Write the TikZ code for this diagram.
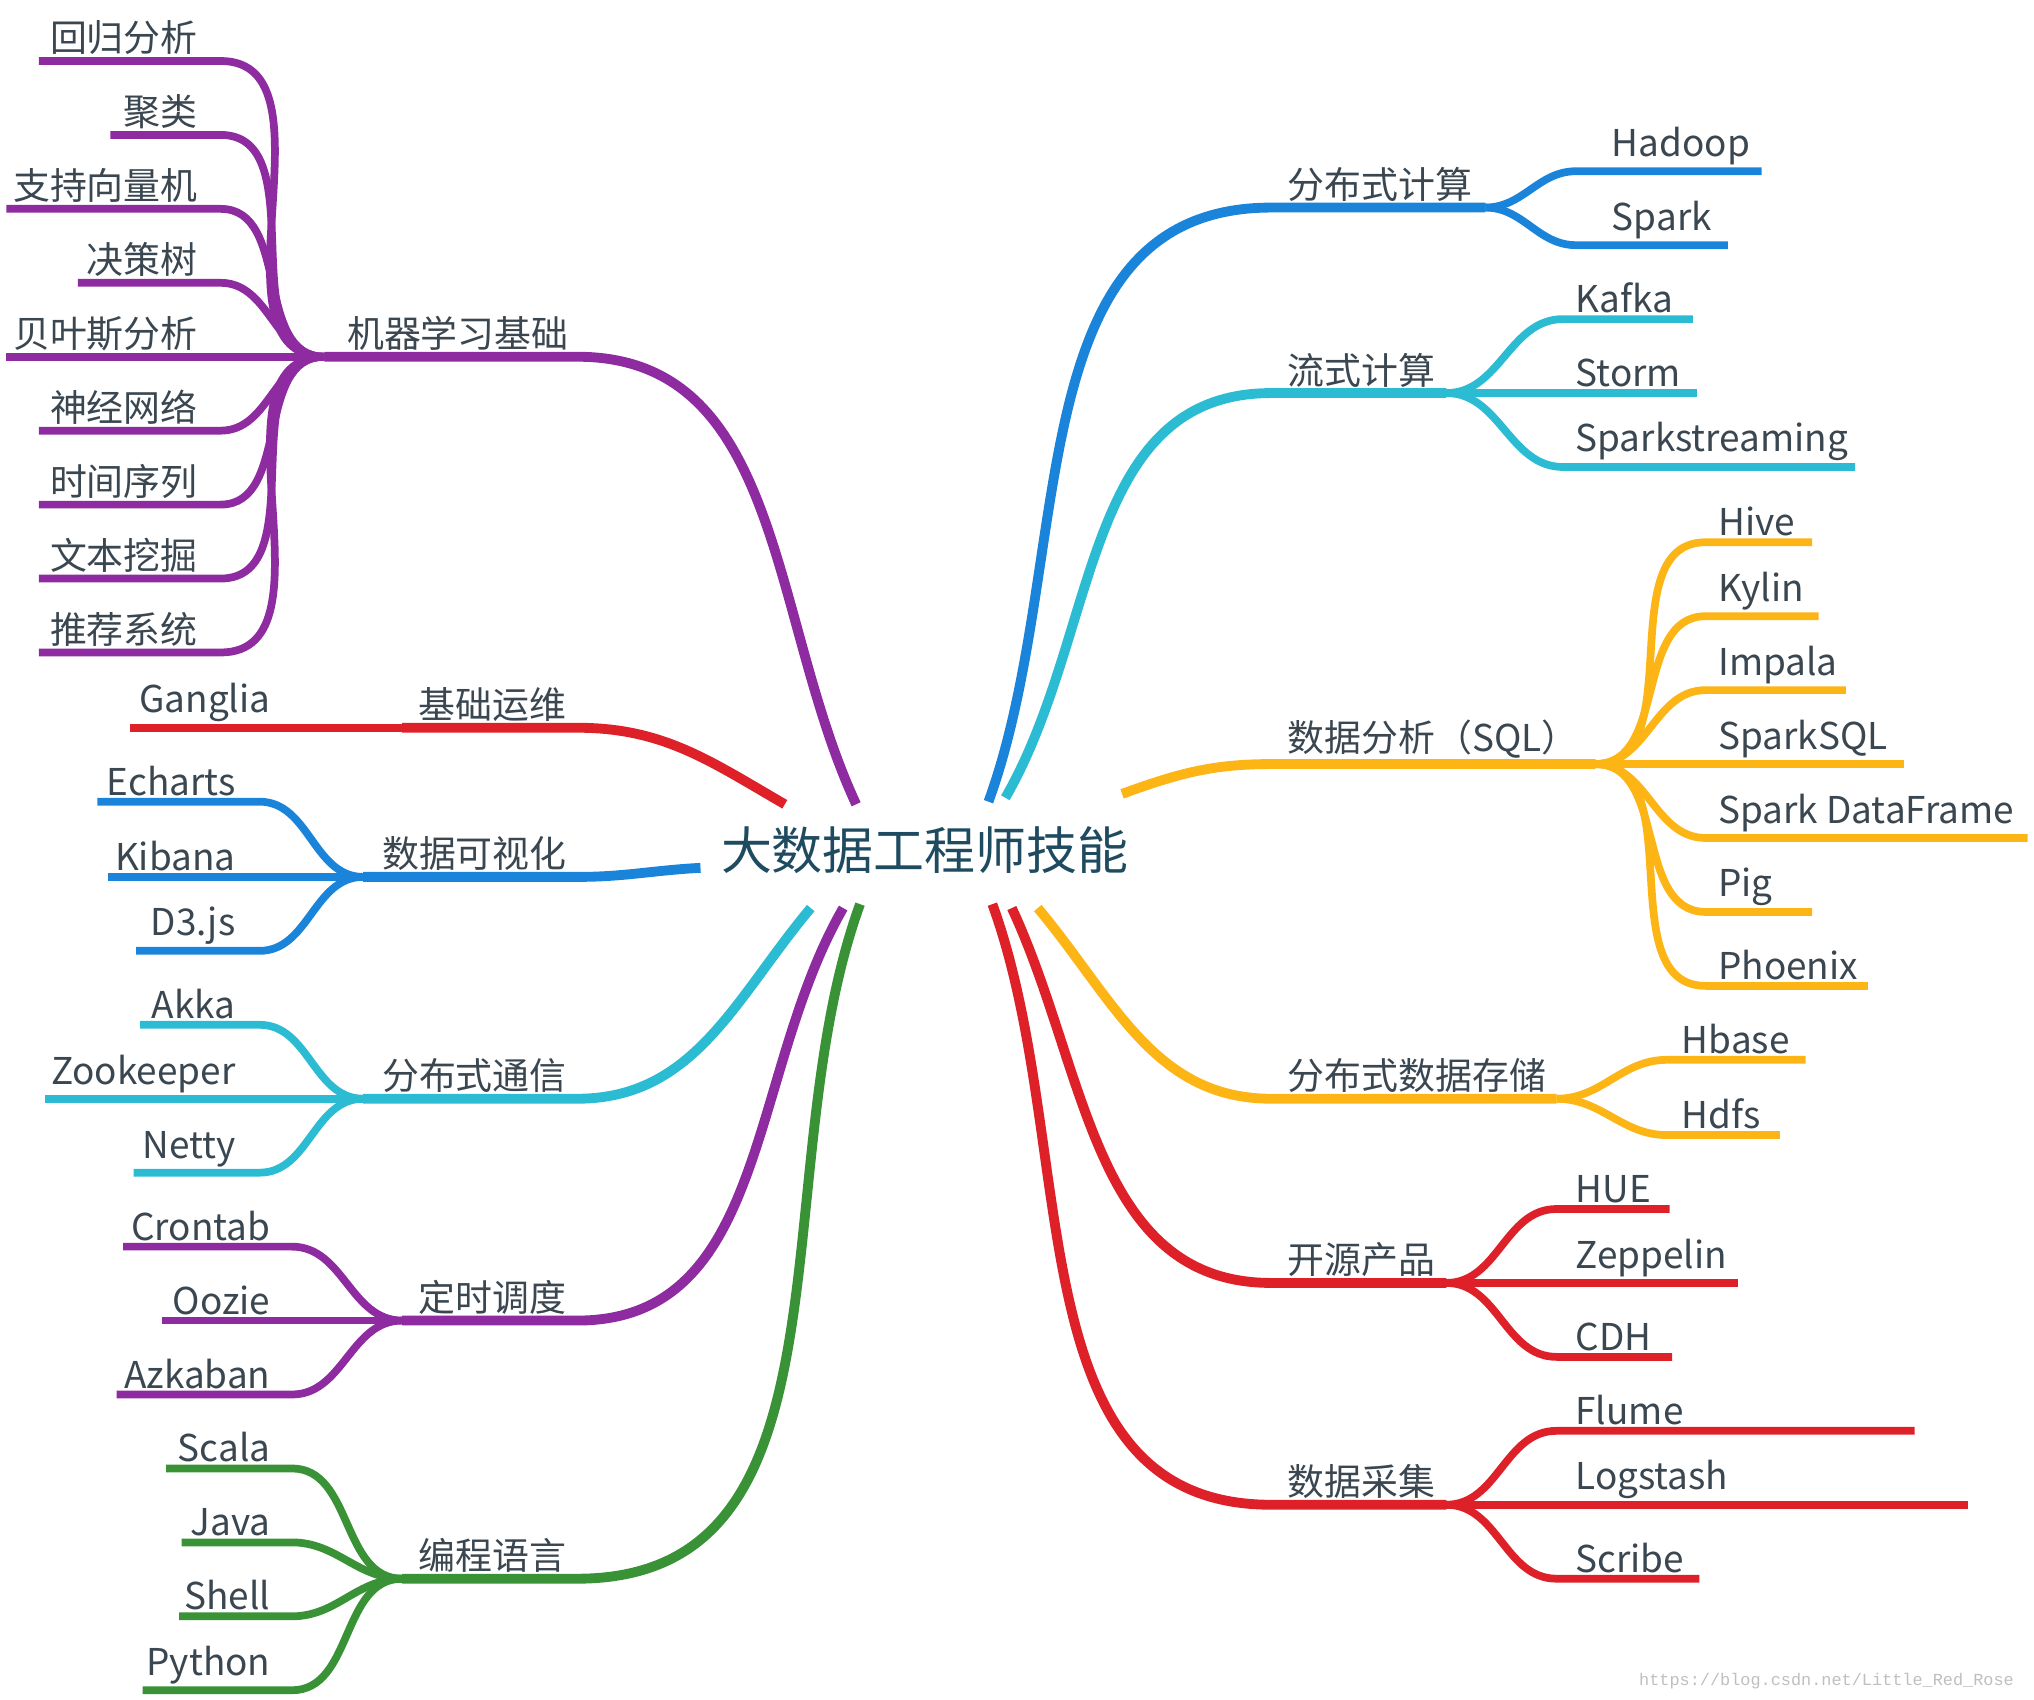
\documentclass[tikz,border=0pt]{standalone}
\usepackage{fontspec}
\setmainfont{Noto Sans CJK SC}
\newfontfamily\wmfont{Liberation Mono}
\usetikzlibrary{positioning}

\definecolor{cPurple}{HTML}{8E2BA0}
\definecolor{cRed}{HTML}{DE2029}
\definecolor{cBlue}{HTML}{1A84DA}
\definecolor{cCyan}{HTML}{2BBCD4}
\definecolor{cOrange}{HTML}{FDB515}
\definecolor{cGreen}{HTML}{3A9236}
\definecolor{txtc}{HTML}{3A4650}
\definecolor{rootc}{HTML}{1F4B60}

\tikzset{
  br/.style={line width=2.2pt},
  stem/.style={line width=2.8pt},
  lbl/.style={text=txtc, font=\fontsize{10.5}{12}\selectfont, inner sep=1.5pt},
}

\begin{document}
\begin{tikzpicture}[x=0.01297cm,y=-0.01297cm]
    \useasboundingbox (0,0) rectangle (1568,1310);

    \node[font=\fontsize{14.5}{17}\selectfont, text=rootc] (root) at (713,655) {大数据工程师技能};

    % hubs where the leaves meet
    \coordinate (ml) at (250,275);
    \coordinate (ops) at (310,561);
    \coordinate (vis) at (280,676);
    \coordinate (com) at (280,847);
    \coordinate (job) at (310,1018);
    \coordinate (lang) at (310,1217);
    \coordinate (dist) at (1145,160);
    \coordinate (strm) at (1115,303);
    \coordinate (sql) at (1230,589);
    \coordinate (store) at (1200,847);
    \coordinate (open) at (1115,989);
    \coordinate (coll) at (1115,1160);

    % left stems
    \draw[stem,cPurple] (ml) -- (445,275) to[out=0,in=115] (660,620);
    \draw[stem,cRed] (ops) -- (445,561) to[out=0,in=150] (605,620);
    \draw[stem,cBlue] (vis) -- (445,676) to[out=0,in=183] (540,669);
    \draw[stem,cCyan] (com) -- (445,847) to[out=0,in=230] (625,700);
    \draw[stem,cPurple] (job) -- (445,1018) to[out=0,in=240] (650,700);
    \draw[stem,cGreen] (lang) -- (445,1217) to[out=0,in=250] (663,697);

    \node[lbl,anchor=south west] (mlt) at (263,275) {机器学习基础};
    \node[lbl,anchor=south west] (opst) at (318,561) {基础运维};
    \node[lbl,anchor=south west] (vist) at (290,676) {数据可视化};
    \node[lbl,anchor=south west] (comt) at (290,847) {分布式通信};
    \node[lbl,anchor=south west] (jobt) at (318,1018) {定时调度};
    \node[lbl,anchor=south west] (langt) at (318,1217) {编程语言};

    % right stems
    \draw[stem,cBlue] (762,618) to[out=70,in=180] (980,160) -- (dist);
    \draw[stem,cCyan] (775,615) to[out=60,in=180] (980,303) -- (strm);
    \draw[stem,cOrange] (865,612) to[out=20,in=180] (980,589) -- (sql);
    \draw[stem,cOrange] (800,700) to[out=-50,in=180] (980,847) -- (store);
    \draw[stem,cRed] (780,700) to[out=-65,in=180] (980,989) -- (open);
    \draw[stem,cRed] (765,697) to[out=-70,in=180] (980,1160) -- (coll);

    \node[lbl,anchor=south west] (distt) at (988,160) {分布式计算};
    \node[lbl,anchor=south west] (strmt) at (988,303) {流式计算};
    \node[lbl,anchor=south west] (sqlt) at (988,589) {数据分析（SQL）};
    \node[lbl,anchor=south west] (storet) at (988,847) {分布式数据存储};
    \node[lbl,anchor=south west] (opent) at (988,989) {开源产品};
    \node[lbl,anchor=south west] (collt) at (988,1160) {数据采集};

    % left leaves
    \foreach \y/\xs/\t in {47/30/回归分析, 104/85/聚类, 161/5/支持向量机, 218/60/决策树,
        275/5/贝叶斯分析, 332/30/神经网络, 389/30/时间序列, 446/30/文本挖掘, 503/30/推荐系统} {
        \draw[br,cPurple] (\xs,\y) -- (170,\y) to[out=0,in=180] (ml);
        \node[lbl,anchor=south east] at (157,\y) {\t};
    }
    \draw[br,cRed] (100,561) -- (ops);
    \node[lbl,anchor=south east] at (213,561) {Ganglia};
    \foreach \y/\xs/\t in {618/75/Echarts, 676/83/Kibana, 733/105/D3.js} {
        \draw[br,cBlue] (\xs,\y) -- (200,\y) to[out=0,in=180] (vis);
        \node[lbl,anchor=south east] at (186,\y) {\t};
    }
    \foreach \y/\xs/\t in {790/108/Akka, 847/35/Zookeeper, 904/103/Netty} {
        \draw[br,cCyan] (\xs,\y) -- (200,\y) to[out=0,in=180] (com);
        \node[lbl,anchor=south east] at (186,\y) {\t};
    }
    \foreach \y/\xs/\t in {961/95/Crontab, 1018/125/Oozie, 1075/90/Azkaban} {
        \draw[br,cPurple] (\xs,\y) -- (225,\y) to[out=0,in=180] (job);
        \node[lbl,anchor=south east] at (213,\y) {\t};
    }
    \foreach \y/\xs/\t in {1132/128/Scala, 1189/140/Java, 1246/138/Shell, 1303/110/Python} {
        \draw[br,cGreen] (\xs,\y) -- (225,\y) to[out=0,in=180] (lang);
        \node[lbl,anchor=south east] at (213,\y) {\t};
    }

    % right leaves
    \foreach \y/\xe/\t in {132/1358/Hadoop, 189/1332/Spark} {
        \draw[br,cBlue] (dist) to[out=0,in=180] (1215,\y) -- (\xe,\y);
        \node[lbl,anchor=south west] at (1238,\y) {\t};
    }
    \foreach \y/\xe/\t in {246/1305/Kafka, 303/1308/Storm, 360/1430/Sparkstreaming} {
        \draw[br,cCyan] (strm) to[out=0,in=180] (1205,\y) -- (\xe,\y);
        \node[lbl,anchor=south west] at (1210,\y) {\t};
    }
    \foreach \y/\xe/\t in {418/1397/Hive, 475/1402/Kylin, 532/1423/Impala, 589/1468/SparkSQL,
        646/1563/Spark DataFrame, 703/1397/Pig, 760/1440/Phoenix} {
        \draw[br,cOrange] (sql) to[out=0,in=180] (1315,\y) -- (\xe,\y);
        \node[lbl,anchor=south west] at (1320,\y) {\t};
    }
    \foreach \y/\xe/\t in {817/1392/Hbase, 875/1372/Hdfs} {
        \draw[br,cOrange] (store) to[out=0,in=180] (1285,\y) -- (\xe,\y);
        \node[lbl,anchor=south west] at (1292,\y) {\t};
    }
    \foreach \y/\xe/\t in {932/1287/HUE, 989/1340/Zeppelin, 1046/1289/CDH} {
        \draw[br,cRed] (open) to[out=0,in=180] (1200,\y) -- (\xe,\y);
        \node[lbl,anchor=south west] at (1210,\y) {\t};
    }
    \foreach \y/\xe/\t in {1103/1476/Flume, 1160/1517/Logstash, 1217/1310/Scribe} {
        \draw[br,cRed] (coll) to[out=0,in=180] (1200,\y) -- (\xe,\y);
        \node[lbl,anchor=south west] at (1210,\y) {\t};
    }

    \node[text=black!25, font=\wmfont\fontsize{4.8}{6}\selectfont, anchor=east] (wm) at (1562,1296) {https://blog.csdn.net/Little\_Red\_Rose};
\end{tikzpicture}
\end{document}
